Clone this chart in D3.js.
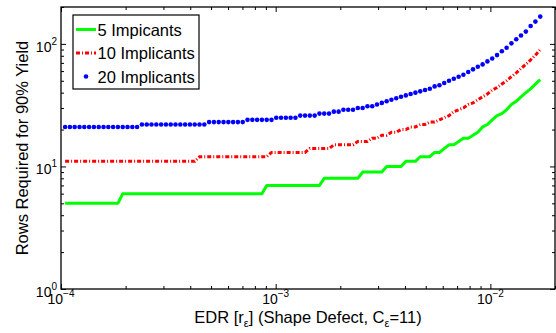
<!DOCTYPE html>
<html>
<head>
<meta charset="utf-8">
<script src="https://cdn.jsdelivr.net/npm/d3@7"></script>
<style>
  body { margin: 0; background: #fff; }
  svg { font-family: "Liberation Sans", Arial, Helvetica, sans-serif; }
</style>
</head>
<body>
<div id="chart"></div>
<script>
// EDR sample points (x axis)
var edr = [
  1.045e-4, 1.100e-4, 1.158e-4, 1.220e-4, 1.284e-4, 1.352e-4, 1.423e-4, 1.499e-4, 1.578e-4, 1.661e-4,
  1.749e-4, 1.841e-4, 1.939e-4, 2.041e-4, 2.149e-4, 2.262e-4, 2.382e-4, 2.508e-4, 2.640e-4, 2.780e-4,
  2.927e-4, 3.081e-4, 3.244e-4, 3.415e-4, 3.596e-4, 3.786e-4, 3.986e-4, 4.196e-4, 4.418e-4, 4.651e-4,
  4.897e-4, 5.156e-4, 5.428e-4, 5.715e-4, 6.017e-4, 6.335e-4, 6.669e-4, 7.021e-4, 7.392e-4, 7.783e-4,
  8.194e-4, 8.627e-4, 9.082e-4, 9.562e-4, 1.006e-3, 1.059e-3, 1.115e-3, 1.174e-3, 1.236e-3, 1.301e-3,
  1.370e-3, 1.442e-3, 1.519e-3, 1.599e-3, 1.683e-3, 1.772e-3, 1.866e-3, 1.964e-3, 2.068e-3, 2.177e-3,
  2.292e-3, 2.413e-3, 2.541e-3, 2.675e-3, 2.816e-3, 2.965e-3, 3.122e-3, 3.287e-3, 3.460e-3, 3.643e-3,
  3.835e-3, 4.038e-3, 4.251e-3, 4.476e-3, 4.712e-3, 4.961e-3, 5.223e-3, 5.499e-3, 5.790e-3, 6.096e-3,
  6.418e-3, 6.757e-3, 7.114e-3, 7.489e-3, 7.885e-3, 8.302e-3, 8.740e-3, 9.202e-3, 9.688e-3, 1.020e-2,
  1.074e-2, 1.131e-2, 1.190e-2, 1.253e-2, 1.320e-2, 1.389e-2, 1.463e-2, 1.540e-2, 1.621e-2, 1.707e-2
];

// Rows required for 90% yield, one value per sample
var rows5 = [
  5, 5, 5, 5, 5, 5, 5, 5, 5, 5,
  5, 5, 6, 6, 6, 6, 6, 6, 6, 6,
  6, 6, 6, 6, 6, 6, 6, 6, 6, 6,
  6, 6, 6, 6, 6, 6, 6, 6, 6, 6,
  6, 6, 7, 7, 7, 7, 7, 7, 7, 7,
  7, 7, 7, 7, 8, 8, 8, 8, 8, 8,
  8, 8, 9, 9, 9, 9, 9, 10, 10, 10,
  10, 11, 11, 11, 12, 12, 12, 13, 13, 14,
  15, 15, 16, 17, 17, 18, 19, 21, 22, 24,
  26, 27, 29, 32, 34, 37, 40, 43, 47, 51
];
var rows10 = [
  11, 11, 11, 11, 11, 11, 11, 11, 11, 11,
  11, 11, 11, 11, 11, 11, 11, 11, 11, 11,
  11, 11, 11, 11, 11, 11, 11, 11, 12, 12,
  12, 12, 12, 12, 12, 12, 12, 12, 12, 12,
  12, 12, 12, 13, 13, 13, 13, 13, 13, 13,
  13, 14, 14, 14, 14, 14, 15, 15, 15, 15,
  15, 16, 16, 16, 17, 17, 18, 18, 19, 19,
  20, 20, 21, 21, 22, 22, 23, 23, 24, 25,
  26, 28, 29, 30, 32, 33, 35, 37, 39, 42,
  44, 47, 50, 54, 58, 63, 68, 74, 81, 90
];
var rows20 = [
  21, 21, 21, 21, 21, 21, 21, 21, 21, 21,
  21, 21, 21, 21, 21, 21, 22, 22, 22, 22,
  22, 22, 22, 22, 22, 22, 22, 22, 22, 22,
  23, 23, 23, 23, 23, 23, 23, 23, 24, 24,
  24, 24, 24, 24, 25, 25, 25, 25, 25, 26,
  26, 26, 26, 27, 27, 27, 28, 28, 29, 29,
  29, 30, 30, 31, 31, 32, 33, 34, 35, 36,
  37, 38, 39, 40, 41, 42, 43, 45, 46, 48,
  50, 52, 54, 56, 59, 62, 65, 68, 72, 76,
  81, 87, 93, 101, 109, 117, 126, 140, 152, 167
];

var seriesNames = ["5 Impicants", "10 Implicants", "20 Implicants"];
var xMajor = [-4, -3, -2];   // exponents of 10
var yMajor = [0, 1, 2];

var width = 556, height = 333;
var margin = {left: 61, right: 1, top: 7, bottom: 44};
var w = width - margin.left - margin.right;
var h = height - margin.top - margin.bottom;

var svg = d3.select("#chart").append("svg")
    .attr("width", width)
    .attr("height", height);

var x = d3.scaleLog().domain([1e-4, 2e-2]).range([0, w]);
var y = d3.scaleLog().domain([1, 200]).range([h, 0]);

var chart = svg.append("g")
    .attr("transform", "translate(" + margin.left + "," + margin.top + ")");

// ticks: majors longer, minors shorter, all pointing inward, on all four sides
var xMinor = x.ticks().filter(function(d) { return xMajor.indexOf(Math.round(Math.log10(d) * 1000) / 1000) < 0; });
var yMinor = y.ticks().filter(function(d) { return yMajor.indexOf(Math.round(Math.log10(d) * 1000) / 1000) < 0; });
var xMajorVals = xMajor.map(function(e) { return Math.pow(10, e); });
var yMajorVals = yMajor.map(function(e) { return Math.pow(10, e); });

function tickAxis(axisFn, scale, vals, size, tr) {
    var g = chart.append("g")
        .attr("transform", tr)
        .call(axisFn(scale).tickValues(vals).tickSize(size).tickFormat("").tickSizeOuter(0));
    g.select(".domain").remove();
    g.selectAll("line").attr("stroke", "#000").attr("stroke-width", 1);
}
tickAxis(d3.axisBottom, x, xMajorVals, -5, "translate(0," + h + ")");
tickAxis(d3.axisBottom, x, xMinor, -3, "translate(0," + h + ")");
tickAxis(d3.axisTop, x, xMajorVals, -5, "translate(0,0)");
tickAxis(d3.axisTop, x, xMinor, -3, "translate(0,0)");
tickAxis(d3.axisLeft, y, yMajorVals, -5, "translate(0,0)");
tickAxis(d3.axisLeft, y, yMinor, -3, "translate(0,0)");
tickAxis(d3.axisRight, y, yMajorVals, -5, "translate(" + w + ",0)");
tickAxis(d3.axisRight, y, yMinor, -3, "translate(" + w + ",0)");

// frame
chart.append("rect")
    .attr("width", w).attr("height", h)
    .attr("fill", "none").attr("stroke", "#000").attr("stroke-width", 1.3);

// tick labels with superscript exponents
xMajor.forEach(function(e) {
    var t = chart.append("text")
        .attr("x", x(Math.pow(10, e)))
        .attr("y", h + 15)
        .attr("text-anchor", "middle")
        .attr("font-size", 14);
    t.append("tspan").text("10");
    t.append("tspan").attr("dy", -7).attr("font-size", 10).text("\u2212" + Math.abs(e));
});
yMajor.forEach(function(e) {
    var t = chart.append("text")
        .attr("x", -4)
        .attr("y", y(Math.pow(10, e)) + 8)
        .attr("text-anchor", "end")
        .attr("font-size", 14);
    t.append("tspan").text("10");
    t.append("tspan").attr("dy", -7).attr("font-size", 10).text(e);
});

// axis titles
var xt = svg.append("text")
    .attr("x", margin.left + w / 2)
    .attr("y", 323)
    .attr("text-anchor", "middle")
    .attr("font-size", 16.5);
xt.append("tspan").text("EDR [r");
xt.append("tspan").attr("dy", 4).attr("font-size", 11).text("\u03b5");
xt.append("tspan").attr("dy", -4).text("] (Shape Defect, C");
xt.append("tspan").attr("dy", 4).attr("font-size", 11).text("\u03b5");
xt.append("tspan").attr("dy", -4).text("=11)");

svg.append("text")
    .attr("transform", "translate(28," + (margin.top + h / 2) + ") rotate(-90)")
    .attr("text-anchor", "middle")
    .attr("font-size", 16.5)
    .text("Rows Required for 90% Yield");

// data
var line = d3.line()
    .x(function(d) { return x(d[0]); })
    .y(function(d) { return y(d[1]); });

var plot = chart.append("g");

plot.append("path")
    .datum(d3.zip(edr, rows5))
    .attr("d", line)
    .attr("fill", "none")
    .attr("stroke", "#00ff00")
    .attr("stroke-width", 3)
    .attr("stroke-linejoin", "round");

plot.append("path")
    .datum(d3.zip(edr, rows10))
    .attr("d", line)
    .attr("fill", "none")
    .attr("stroke", "#ff0000")
    .attr("stroke-width", 3)
    .attr("stroke-dasharray", "4,2,1,2");

plot.selectAll("circle.dot")
    .data(d3.zip(edr, rows20))
    .enter()
    .append("circle")
    .classed("dot", true)
    .attr("cx", function(d) { return x(d[0]); })
    .attr("cy", function(d) { return y(d[1]); })
    .attr("r", 2.3)
    .attr("fill", "#0000ff");

// legend
var legend = svg.append("g");
legend.append("rect")
    .attr("x", 73).attr("y", 15)
    .attr("width", 126).attr("height", 74)
    .attr("fill", "#fff").attr("stroke", "#000").attr("stroke-width", 1.2);

var rowsY = [29.5, 53, 76.5];
legend.append("line")
    .attr("x1", 76).attr("x2", 96).attr("y1", rowsY[0]).attr("y2", rowsY[0])
    .attr("stroke", "#00ff00").attr("stroke-width", 3);
legend.append("line")
    .attr("x1", 76).attr("x2", 96).attr("y1", rowsY[1]).attr("y2", rowsY[1])
    .attr("stroke", "#ff0000").attr("stroke-width", 3).attr("stroke-dasharray", "4,2,1,2");
legend.append("circle")
    .attr("cx", 86).attr("cy", rowsY[2]).attr("r", 2.3).attr("fill", "#0000ff");

seriesNames.forEach(function(name, i) {
    legend.append("text")
        .attr("x", 97.5)
        .attr("y", rowsY[i] + 6)
        .attr("font-size", 16.5)
        .text(name);
});
</script>
</body>
</html>
